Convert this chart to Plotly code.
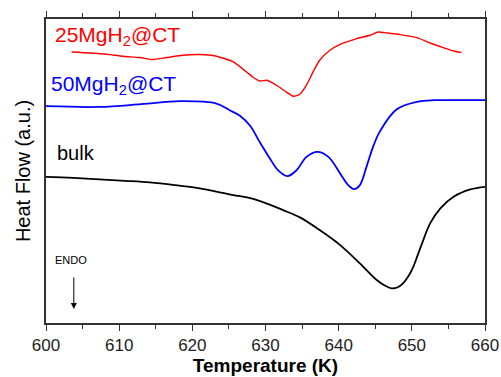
import plotly.graph_objects as go

# Temperature (K) and heat flow (a.u., offset curves)
bulk_T = [600.0, 603.7, 607.3, 610.8, 614.2, 617.6, 621.0, 623.3, 625.6, 627.9, 630.2, 632.4, 634.7,
          637.4, 640.2, 642.9, 645.2, 646.3, 647.2, 648.0, 648.8, 649.5, 650.2, 650.8, 651.4,
          652.5, 653.9, 655.7, 658.0, 660.0]
bulk_hf = [146.3, 145.2, 143.7, 142.3, 140.7, 138.0, 134.7, 131.5, 128.0, 125.0, 119.5, 113.0, 105.7,
           93.0, 78.0, 59.7, 43.0, 37.5, 34.7, 35.5, 39.7, 46.5, 56.3, 68.0, 79.7,
           99.7, 114.7, 126.3, 133.7, 136.3]

ct50_T = [600.0, 607.3, 613.0, 618.3, 623.3, 625.1, 626.5, 627.9, 629.2, 630.6, 631.7, 633.0,
          634.25, 635.6, 637.1, 638.6, 640.2, 641.3, 642.1, 642.9, 643.8, 644.7, 645.6,
          647.9, 650.7, 653.0, 656.0, 660.0]
ct50_hf = [217.0, 216.3, 219.0, 222.0, 219.7, 213.0, 207.5, 197.5, 181.3, 164.7, 153.0, 147.0,
           153.0, 166.3, 171.3, 166.3, 149.7, 138.0, 134.0, 138.0, 156.3, 176.3, 191.3,
           213.7, 221.3, 223.0, 223.0, 223.0]

ct25_T = [603.5, 606.0, 608.3, 610.5, 612.8, 614.6, 616.5, 618.7, 621.0, 623.3, 625.6, 627.4,
          628.3, 629.2, 630.2, 631.5, 632.7, 633.8, 634.7, 635.6, 636.5, 637.4, 638.8, 640.2,
          642.5, 644.3, 645.4, 646.6, 648.4, 650.7, 652.5, 654.3, 655.7, 656.8]
ct25_hf = [271.3, 270.3, 269.0, 267.0, 265.7, 263.7, 265.7, 268.0, 268.7, 267.0, 261.3, 251.3,
           246.0, 242.3, 243.0, 238.0, 232.0, 227.0, 229.0, 238.0, 251.3, 263.0, 273.0, 279.0,
           284.7, 288.0, 291.3, 290.3, 288.7, 285.7, 280.3, 275.7, 272.3, 270.7]

x_ticks = [600, 610, 620, 630, 640, 650, 660]

FONT = "Arial, Liberation Sans, sans-serif"

fig = go.Figure()
fig.add_trace(go.Scatter(x=bulk_T, y=bulk_hf, mode="lines", line=dict(color="black", width=1.8, shape="spline", smoothing=1.0)))
fig.add_trace(go.Scatter(x=ct50_T, y=ct50_hf, mode="lines", line=dict(color="#0000ff", width=1.8, shape="spline", smoothing=1.0)))
fig.add_trace(go.Scatter(x=ct25_T, y=ct25_hf, mode="lines", line=dict(color="#ff0000", width=1.4, shape="spline", smoothing=0.6)))

fig.update_layout(
    width=501, height=377,
    margin=dict(l=46, r=16, t=19, b=54),
    paper_bgcolor="white", plot_bgcolor="white",
    showlegend=False,
    font=dict(family=FONT, color="black"),
    xaxis=dict(
        range=[600, 660], tickvals=x_ticks, ticktext=[str(v) for v in x_ticks],
        ticks="outside", ticklen=6, tickwidth=1.3, tickcolor="#333",
        showline=True, linecolor="#333", linewidth=1.6, mirror="ticks",
        showgrid=False, zeroline=False, automargin=False,
        tickfont=dict(size=17, color="#222"),
        minor=dict(tickvals=[605, 615, 625, 635, 645, 655], ticks="outside", ticklen=4, tickwidth=1.3, tickcolor="#333"),
        title=dict(text="<b>Temperature (K)</b>", font=dict(size=19, color="black"), standoff=4),
    ),
    yaxis=dict(
        range=[0, 304.3], showticklabels=False, ticks="",
        showline=True, linecolor="#333", linewidth=1.6, mirror=True,
        showgrid=False, zeroline=False, automargin=False,
        title=dict(text="Heat Flow (a.u.)", font=dict(size=20, color="black"), standoff=8),
    ),
)

fig.add_annotation(x=601.0, y=287.0, xref="x", yref="y", text="25MgH<sub>2</sub>@CT", showarrow=False,
                   xanchor="left", yanchor="middle", font=dict(size=21, color="#ff0000", family=FONT))
fig.add_annotation(x=600.45, y=238.5, xref="x", yref="y", text="50MgH<sub>2</sub>@CT", showarrow=False,
                   xanchor="left", yanchor="middle", font=dict(size=21, color="#0000ff", family=FONT))
fig.add_annotation(x=601.2, y=170.0, xref="x", yref="y", text="bulk", showarrow=False,
                   xanchor="left", yanchor="middle", font=dict(size=20, color="black", family=FONT))
fig.add_annotation(x=601.0, y=63.0, xref="x", yref="y", text="ENDO", showarrow=False,
                   xanchor="left", yanchor="middle", font=dict(size=11, color="black", family=FONT))
fig.add_annotation(x=603.8, y=14.0, xref="x", yref="y", text="", showarrow=True,
                   ax=0, ay=-33, arrowhead=2, arrowsize=1.2, arrowwidth=1, arrowcolor="black")

fig.write_html("out.html", config={"displayModeBar": False},
               post_script="document.body.style.margin='0';document.body.style.overflow='hidden';")
